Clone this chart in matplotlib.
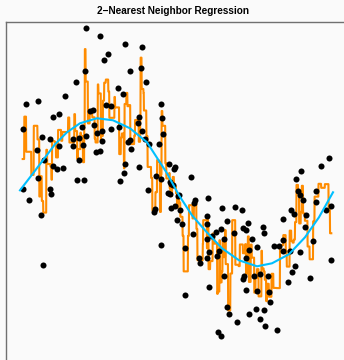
import numpy as np
import matplotlib.pyplot as plt

x = np.array([
    1.306, 1.585, 2.094, 2.420, 1.744, 1.664, 1.298, 2.181, 2.412, 1.108,
    1.955, 2.505, 0.901, 0.358, 0.113, 2.042, 0.781, 0.662, 1.458, 1.392,
    1.710, 1.809, 2.810, 2.366, 2.830, 0.054, 0.437, 0.597, 1.239, 1.477,
    1.630, 1.803, 1.969, 1.054, 1.167, 1.312, 1.525, 0.770, 1.060, 1.253,
    1.636, 2.486, 2.193, 2.849, 1.511, 1.591, 2.138, 2.571, 2.758, 0.332,
    0.483, 1.167, 0.650, 0.730, 0.861, 2.088, 2.372, 2.062, 2.969, 0.364,
    1.133, 1.267, 2.714, 2.352, 2.420, 2.207, 3.092, 3.062, 3.400, 2.798,
    5.593, 5.488, 5.985, 6.138, 3.042, 3.148, 3.480, 3.738, 3.082, 3.002,
    3.181, 4.023, 4.275, 4.420, 3.460, 3.122, 3.215, 3.712, 3.712, 4.110,
    4.540, 3.997, 3.903, 3.812, 4.249, 4.440, 4.488, 4.832, 4.858, 3.434,
    3.718, 4.062, 4.613, 3.281, 3.752, 3.951, 3.553, 3.573, 3.718, 3.917,
    4.559, 4.713, 4.494, 5.057, 5.144, 5.229, 5.229, 5.236, 5.389, 5.448,
    5.693, 5.528, 5.568, 5.633, 5.886, 5.886, 6.085, 6.190, 5.661, 5.826,
    5.573, 5.375, 5.468, 5.414, 5.335, 5.772, 6.184, 4.050, 4.428, 4.460,
    4.653, 4.772, 4.931, 4.945, 4.965, 4.500, 4.718, 3.758, 3.287, 4.116,
    4.162, 4.559, 4.699, 4.852, 4.772, 4.309, 4.878, 5.110, 3.937, 4.003,
    0.054, 0.189, 0.597, 0.616, 0.412, 0.451, 1.988, 2.539, 2.674, 2.690,
    2.804, 2.949, 2.983, 3.162, 2.983, 3.008,
])
y = np.array([
    2.234, 2.116, 2.011, 1.966, 1.877, 1.793, 1.649, 1.649, 1.684, 1.490,
    1.418, 1.494, 1.303, 1.231, 1.195, 1.326, 1.064, 1.023, 1.118, 1.095,
    1.177, 1.163, 1.195, 1.018, 1.004, 0.850, 0.746, 0.714, 0.878, 0.909,
    0.833, 0.850, 0.878, 0.718, 0.732, 0.765, 0.805, 0.619, 0.623, 0.642,
    0.687, 0.718, 0.710, 0.792, 0.537, 0.561, 0.680, 0.656, 0.646, 0.565,
    0.429, 0.429, 0.356, 0.316, 0.324, 0.378, 0.343, 0.261, 0.378, 0.193,
    0.163, 0.163, 0.218, 0.936, 0.833, 0.588, 0.340, 0.306, 0.204, 0.170,
    0.279, 0.180, 0.356, 0.456, 0.098, -0.052, -0.109, -0.084, -0.190, -0.224,
    -0.245, -0.215, -0.211, -0.248, -0.156, -0.378, -0.435, -0.333, -0.438, -0.401,
    -0.419, -0.510, -0.541, -0.596, -0.561, -0.487, -0.524, -0.483, -0.565, -0.569,
    -0.642, -0.637, -0.642, -0.762, -0.816, -0.809, -0.901, -0.963, -0.895, -0.871,
    -0.796, -0.751, -0.901, -0.732, -0.737, -0.805, -0.650, -0.374, -0.252, -0.297,
    -0.316, 0.007, -0.038, -0.116, 0.007, -0.139, -0.248, -0.197, -0.473, -0.664,
    -0.823, -0.805, -1.004, -1.086, -1.231, -1.173, -0.932, -1.140, -1.186, -1.150,
    -1.150, -1.122, -1.146, -1.358, -1.499, -1.331, -1.354, -1.290, -1.404, -1.567,
    -1.663, -1.657, -1.594, -1.603, -1.725, -1.775, -1.830, -1.884, -1.907, -1.956,
    0.041, -0.106, 0.041, -0.027, -0.322, -0.996, 0.147, 0.020, -0.279, -0.229,
    -0.718, -0.016, -0.034, -0.048, 0.133, 0.106,
])

# true curve
true_x = [0.0, 0.199, 0.457, 0.696, 0.935, 1.193, 1.531, 1.849, 2.187, 2.525, 2.923,
          3.162, 3.420, 3.679, 4.017, 4.355, 4.713, 5.011, 5.349, 5.667, 5.945, 6.224]
true_y = [0.020, 0.197, 0.429, 0.646, 0.810, 0.932, 1.0, 0.973, 0.864, 0.674, 0.252,
          -0.048, -0.320, -0.524, -0.769, -0.932, -1.014, -0.973, -0.850, -0.619, -0.347, -0.007]

k = 2

# 2-NN prediction on a grid
grid = np.linspace(x.min(), x.max(), 1500)
pred = np.empty_like(grid)
for i, g in enumerate(grid):
    idx = np.argsort(np.abs(x - g))[:k]
    pred[i] = y[idx].mean()

bg = '#fafafa'
fig = plt.figure(figsize=(3.44, 3.6), dpi=100, facecolor=bg)
ax = fig.add_axes([6 / 344, -12 / 360, 343 / 344, 350 / 360], facecolor=bg)

ax.scatter(x, y, s=19, color='black', zorder=3, linewidths=0)
ax.plot(grid, pred, color='#ff8c00', lw=1.5, zorder=2)
ax.plot(true_x, true_y, color='#00bfff', lw=1.5, zorder=4)

ax.set_xlim(-0.278, 6.542)
ax.set_ylim(-2.452, 2.31)
ax.set_xticks([])
ax.set_yticks([])
for s in ax.spines.values():
    s.set_color('#707070')
    s.set_linewidth(1.0)
ax.spines['right'].set_visible(False)
ax.spines['bottom'].set_visible(False)

fig.text(173 / 344, 1 - 11 / 360, '2\u2212Nearest Neighbor Regression',
         ha='center', va='center', fontsize=7.2, fontweight='bold',
         family=['Liberation Sans', 'DejaVu Sans'])

fig.savefig('out.png', dpi=100, facecolor=bg)
